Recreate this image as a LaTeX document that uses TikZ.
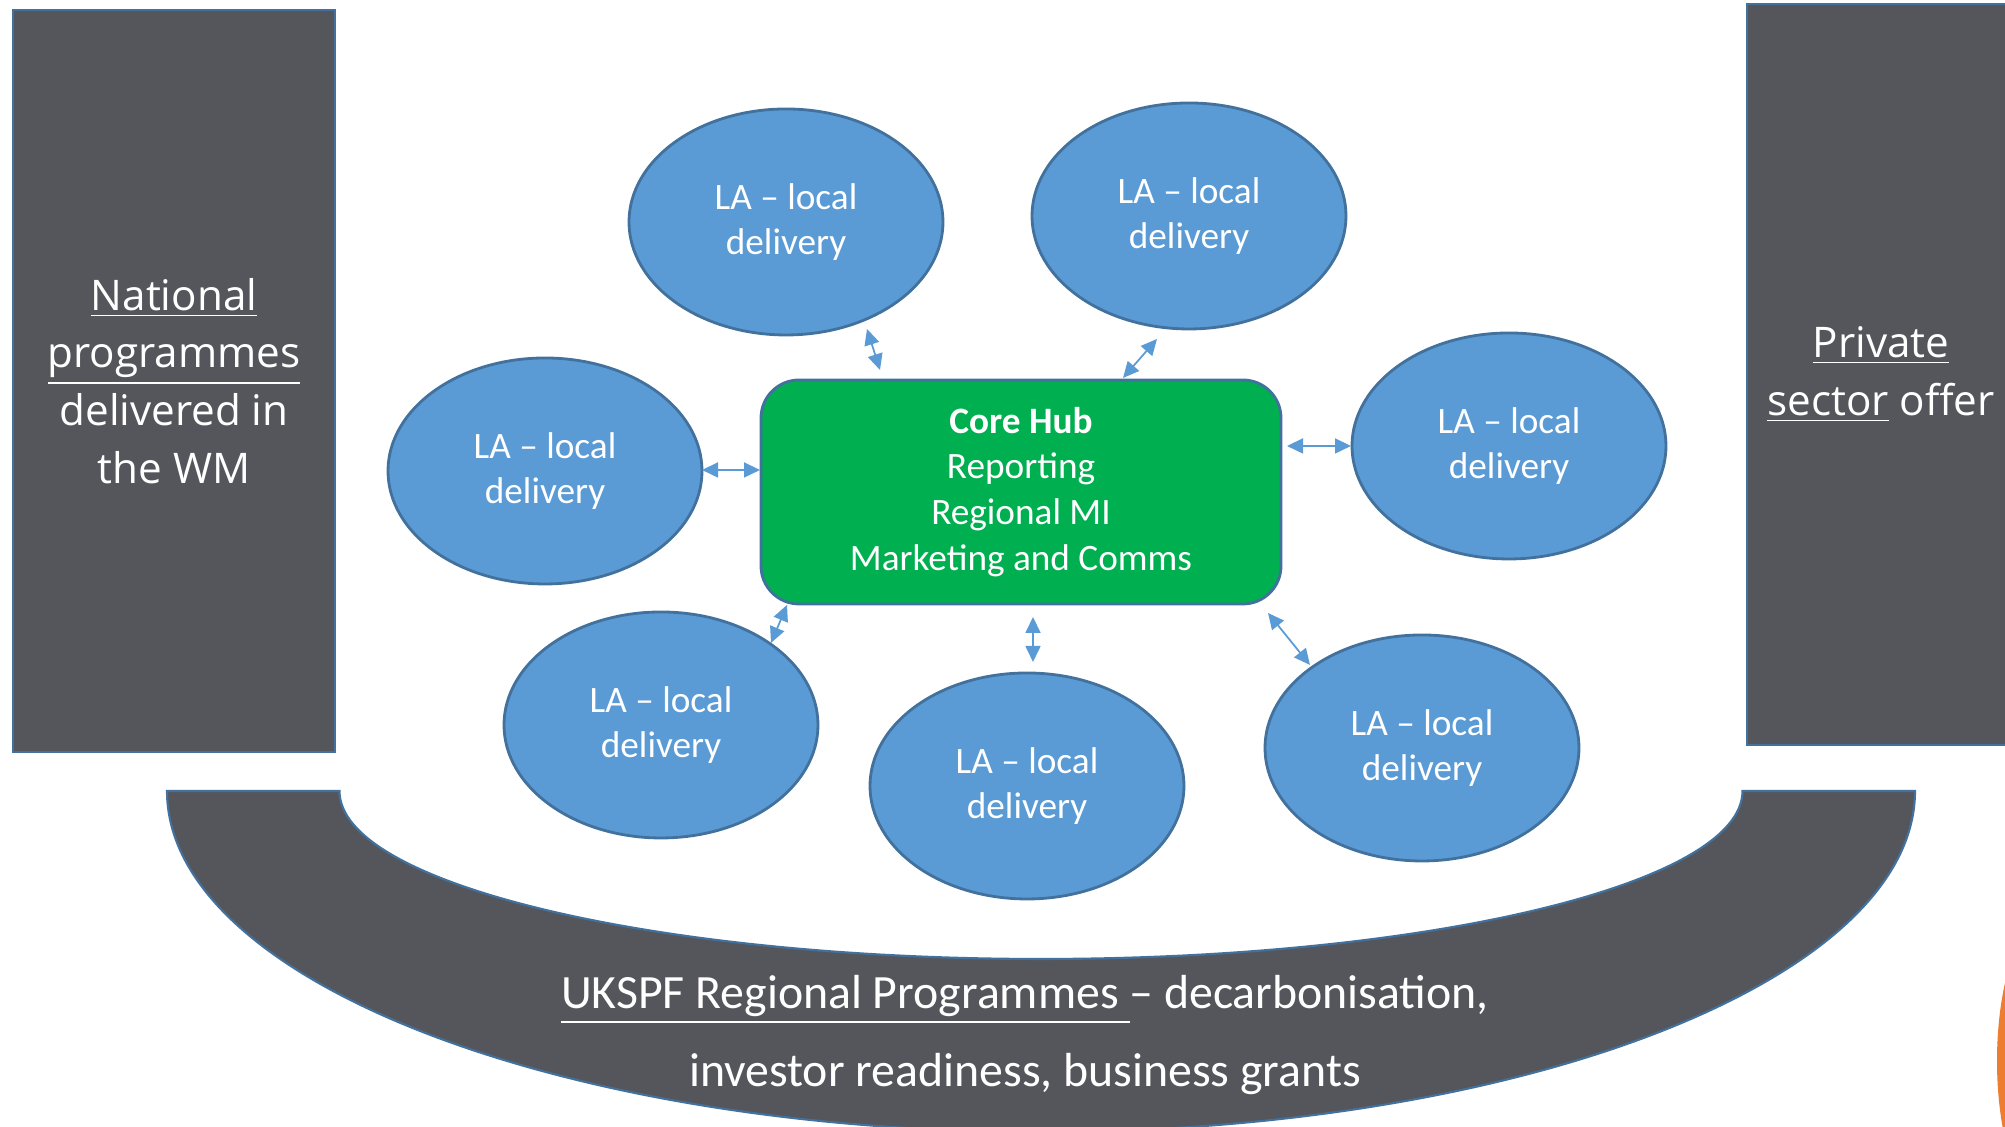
\documentclass[tikz,border=0pt]{standalone}
\usepackage{fontspec}
\setmainfont{Carlito}
\newfontfamily\sidefont{Open Sans}
\usepackage{tikz}
\usetikzlibrary{positioning, calc}
\usetikzlibrary{arrows.meta}
\usetikzlibrary{shapes}
\definecolor{lablue}{HTML}{5B9BD5}
\definecolor{edgeblue}{HTML}{41719C}
\definecolor{hubgreen}{HTML}{00B050}
\definecolor{slate}{HTML}{55565B}
\definecolor{tangerine}{HTML}{ED7D31}

\begin{document}
\begin{tikzpicture}[x=1cm,y=1cm]
	\fontsize{10.6}{13}\selectfont
	\useasboundingbox (0,0) rectangle (20.05,11.27);

	\def \toprow{9.08}
	\def \midrow{6.68}
	\def \lowrow{3.74}
	\def \bowltop{3.36}

	\tikzstyle{la-node}=[ellipse,draw=edgeblue,fill=lablue,line width=0.8pt,inner sep=0pt,minimum width=3.14cm,minimum height=2.26cm,text=white,align=center]
	\tikzstyle{hub-node}=[rectangle,rounded corners=0.38cm,draw=edgeblue,fill=hubgreen,line width=0.8pt,minimum width=5.2cm,minimum height=2.24cm,text=white,align=center]
	\tikzstyle{side-box}=[rectangle,draw=edgeblue,fill=slate,line width=0.6pt,inner sep=0pt,text=white,align=center,font=\sidefont\fontsize{12}{16.4}\selectfont]
	\tikzstyle{la-link}=[{Triangle[length=1.6mm,width=1.5mm]}-{Triangle[length=1.6mm,width=1.5mm]},draw=lablue,fill=lablue,line width=0.5pt]
	% bowl and side columns
	\draw[draw=edgeblue,fill=slate,line width=0.6pt]
		(1.67,\bowltop) -- (3.395,\bowltop)
		arc[start angle=180,end angle=360,x radius=7.015,y radius=1.68]
		-- (19.15,\bowltop)
		arc[start angle=0,end angle=-180,x radius=8.74,y radius=3.41] -- cycle;
	\fill[tangerine] (20.6,0.66) ellipse [x radius=0.63,y radius=1.6];

	\node[side-box,minimum width=3.22cm,minimum height=7.42cm] (national) at (1.74,7.46)
		{\underline{National}\\\underline{programmes}\\delivered in\\the WM};
	\node[side-box,minimum width=2.68cm,minimum height=7.41cm] (private) at (18.81,7.525)
		{\underline{Private}\\\underline{sector} offer};

	\node[text=white,align=center,font=\fontsize{13.6}{22}\selectfont] (regional) at (10.25,0.92)
		{\underline{UKSPF Regional Programmes\ }– decarbonisation,\\investor readiness, business grants};

	% hub
	\node[hub-node] (hub) at (10.21,6.35)
		{\textbf{Core Hub}\\Reporting\\Regional MI\\Marketing and Comms};

	% local delivery
	\node[la-node] (la1) at (7.86,\toprow-0.03) {LA – local\\delivery};
	\node[la-node] (la2) at (11.89,\toprow+0.03) {LA – local\\delivery};
	\node[la-node] (la3) at (5.45,\midrow-0.12) {LA – local\\delivery};
	\node[la-node] (la4) at (15.09,\midrow+0.13) {LA – local\\delivery};
	\node[la-node] (la5) at (6.61,\lowrow+0.28) {LA – local\\delivery};
	\node[la-node] (la6) at (10.27,\lowrow-0.33) {LA – local\\delivery};
	\node[la-node] (la7) at (14.22,\lowrow+0.05) {LA – local\\delivery};

	% link ends
	\coordinate (l1a) at (8.67,7.98);  \coordinate (l1b) at (8.80,7.57);
	\coordinate (l2a) at (11.57,7.88); \coordinate (l2b) at (11.23,7.49);
	\coordinate (l3a) at (7.02,6.57);  \coordinate (l3b) at (7.60,6.57);
	\coordinate (l4a) at (12.87,6.81); \coordinate (l4b) at (13.51,6.81);
	\coordinate (l5a) at (7.87,5.22);  \coordinate (l5b) at (7.71,4.84);
	\coordinate (l6a) at (10.33,5.10); \coordinate (l6b) at (10.33,4.65);
	\coordinate (l7a) at (12.68,5.14); \coordinate (l7b) at (13.10,4.62);

	\foreach \i in {1,...,7}
		\draw[la-link] (l\i a) -- (l\i b);
\end{tikzpicture}
\end{document}
